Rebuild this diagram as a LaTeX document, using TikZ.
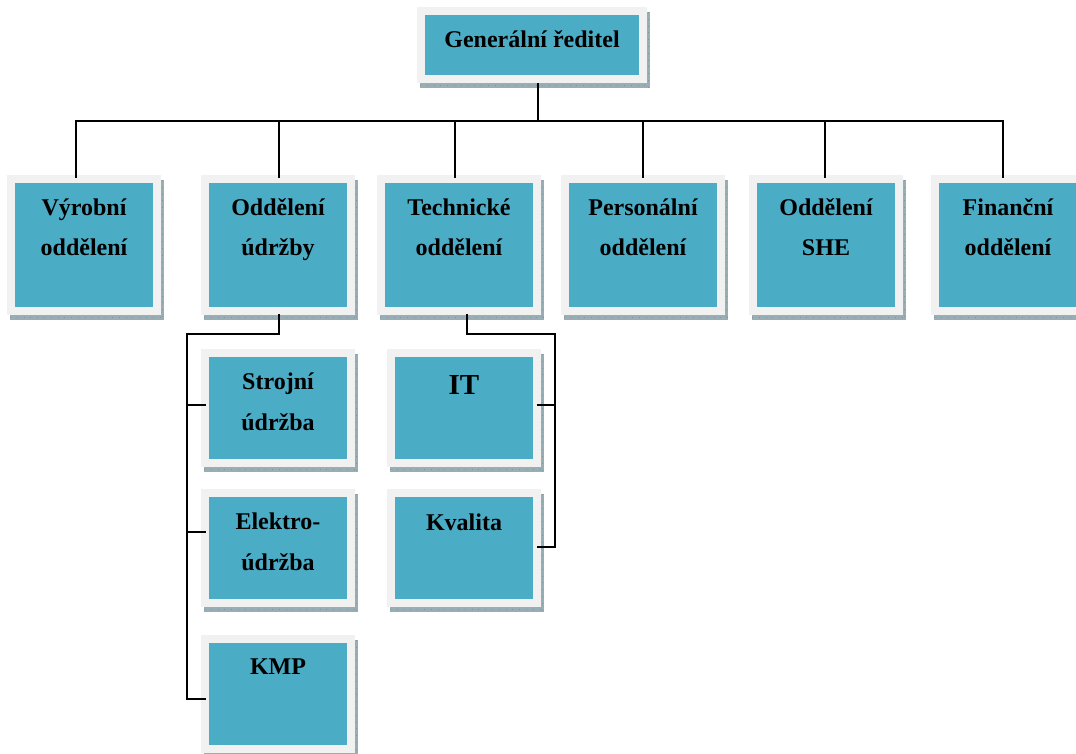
\documentclass[tikz,border=0pt]{standalone}
\usepackage{fontspec}
\setmainfont{Liberation Serif}
\usetikzlibrary{fit}
\definecolor{tealc}{HTML}{4BACC6}
\definecolor{framec}{HTML}{F1F1F1}
\definecolor{shadowc}{HTML}{98AEB4}
\definecolor{shadowd}{HTML}{7F979E}
\tikzset{
  tealbox/.style={fill=tealc, inner sep=0pt, draw=none},
  lbl/.style={font=\bfseries\fontsize{24}{28}\selectfont, inner sep=0pt, anchor=base, text=black},
  biglbl/.style={font=\bfseries\fontsize{29}{32}\selectfont, inner sep=0pt, anchor=base, text=black},
  conn/.style={draw=black, line width=2pt},
}
% #1 name, #2 x1, #3 y1, #4 x2, #5 y2 (teal rectangle)
\newcommand\orgbox[5]{%
  \fill[shadowc] (#2-5,#3-3) rectangle (#4+11,#5+13);
  \draw[shadowd, line width=0.6pt, dash pattern=on 0.8pt off 6pt] (#2-5,#5+10.5) -- (#4+11,#5+10.5);
  \draw[shadowd, line width=0.6pt, dash pattern=on 0.8pt off 6pt] (#4+9.5,#3-3) -- (#4+9.5,#5+13);
  \fill[framec] (#2-8,#3-8) rectangle (#4+8,#5+8);
  \node[tealbox, fit={(#2,#3) (#4,#5)}] (#1) {};
}
\begin{document}
\begin{tikzpicture}[x=1pt,y=-1pt]
\useasboundingbox (0,0) rectangle (1076,753);
\clip (0,0) rectangle (1076,753);
\fill[white] (0,0) rectangle (1076,753);

% boxes
\orgbox{gen}{425}{15}{639}{75}
\orgbox{vyr}{15}{183}{153}{307}
\orgbox{udr}{209}{183}{347}{307}
\orgbox{tec}{385}{183}{533}{307}
\orgbox{per}{569}{183}{717}{307}
\orgbox{she}{757}{183}{895}{307}
\orgbox{fin}{939}{183}{1077}{307}
\orgbox{str}{209}{357}{347}{459}
\orgbox{ele}{209}{497}{347}{599}
\orgbox{kmp}{209}{643}{347}{745}
\orgbox{it}{395}{357}{533}{459}
\orgbox{kva}{395}{497}{533}{599}

% labels
\node[lbl] (genT) at (532,47) {Generální ředitel};
\node[lbl] (vyrT1) at (84,215) {Výrobní};
\node[lbl] (vyrT2) at (84,255) {oddělení};
\node[lbl] (udrT1) at (278,215) {Oddělení};
\node[lbl] (udrT2) at (278,255) {údržby};
\node[lbl] (tecT1) at (459,215) {Technické};
\node[lbl] (tecT2) at (459,255) {oddělení};
\node[lbl] (perT1) at (643,215) {Personální};
\node[lbl] (perT2) at (643,255) {oddělení};
\node[lbl] (sheT1) at (826,215) {Oddělení};
\node[lbl] (sheT2) at (826,255) {SHE};
\node[lbl] (finT1) at (1008,215) {Finanční};
\node[lbl] (finT2) at (1008,255) {oddělení};
\node[lbl] (strT1) at (278,389) {Strojní};
\node[lbl] (strT2) at (278,430) {údržba};
\node[lbl] (eleT1) at (278,529) {Elektro-};
\node[lbl] (eleT2) at (278,570) {údržba};
\node[lbl] (kmpT) at (278,674) {KMP};
\node[biglbl] (itT) at (464,394) {IT};
\node[lbl] (kvaT) at (464,530) {Kvalita};

% connector points
\coordinate (genB) at (538,83);
\coordinate (bus) at (538,121);
\coordinate (vyrA) at (76,178);
\coordinate (udrA) at (279,178);
\coordinate (tecA) at (455,178);
\coordinate (perA) at (643,178);
\coordinate (sheA) at (825,178);
\coordinate (finA) at (1003,178);
\coordinate (udrB) at (279,314);
\coordinate (udrJ) at (187,334);
\coordinate (strA) at (206,405);
\coordinate (eleA) at (206,532);
\coordinate (kmpA) at (206,699);
\coordinate (tecB) at (467,314);
\coordinate (tecJ) at (555,334);
\coordinate (itA) at (537,405);
\coordinate (kvaA) at (537,547);

% connectors
\draw[conn] (genB) -- (bus);
\draw[conn] (bus) -| (vyrA);
\draw[conn] (bus) -| (udrA);
\draw[conn] (bus) -| (tecA);
\draw[conn] (bus) -| (perA);
\draw[conn] (bus) -| (sheA);
\draw[conn] (bus) -| (finA);
\draw[conn] (udrB) |- (udrJ) |- (kmpA);
\draw[conn] (udrJ) |- (strA);
\draw[conn] (udrJ) |- (eleA);
\draw[conn] (tecB) |- (tecJ) |- (kvaA);
\draw[conn] (tecJ) |- (itA);
\end{tikzpicture}
\end{document}
